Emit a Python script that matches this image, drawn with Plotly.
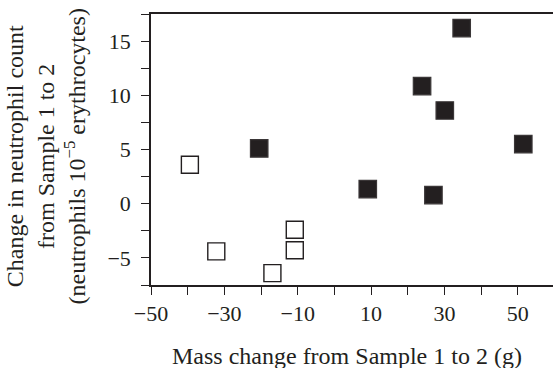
import plotly.graph_objects as go

# Data
filled_x = [-20.5, 9.1, 23.9, 30.1, 34.7, 27.0, 51.5]
filled_y = [5.1, 1.35, 10.85, 8.6, 16.2, 0.8, 5.5]
open_x = [-39.4, -32.2, -16.9, -10.8, -10.8]
open_y = [3.6, -4.4, -6.4, -2.4, -4.3]

x_tickvals = [-50, -40, -30, -20, -10, 0, 10, 20, 30, 40, 50]
x_ticktext = ["\u221250", "", "\u221230", "", "\u221210", "", "10", "", "30", "", "50"]
y_tickvals = [-7.5, -5, -2.5, 0, 2.5, 5, 7.5, 10, 12.5, 15, 17.5]
y_ticktext = ["", "\u22125", "", "0", "", "5", "", "10", "", "15", ""]

x_title = "Mass change from Sample 1 to 2 (g)"
y_title = ("Change in neutrophil count<br>from Sample 1 to 2<br>"
           "(neutrophils 10<sup>\u22125</sup> erythrocytes)")

INK = "#231f20"
FONT = "Liberation Serif"

fig = go.Figure()
fig.add_trace(go.Scatter(
    x=open_x, y=open_y, mode="markers",
    marker=dict(symbol="square", size=17, color="white",
                line=dict(color=INK, width=1.4)),
    showlegend=False, cliponaxis=False))
fig.add_trace(go.Scatter(
    x=filled_x, y=filled_y, mode="markers",
    marker=dict(symbol="square", size=17.5, color=INK,
                line=dict(color="#3a3637", width=1.2)),
    showlegend=False, cliponaxis=False))

fig.update_layout(
    width=553, height=368,
    margin=dict(l=151, r=0, t=14, b=83, autoexpand=False),
    paper_bgcolor="white", plot_bgcolor="white",
    font=dict(family=FONT, size=22, color=INK),
    xaxis=dict(range=[-50, 59.6], showgrid=False, zeroline=False,
               showline=True, linecolor=INK, linewidth=1.5, mirror=True,
               ticks="outside", ticklen=8, tickwidth=1.3, tickcolor=INK,
               tickvals=x_tickvals, ticktext=x_ticktext, automargin=False,
               tickfont=dict(family=FONT, size=22, color=INK)),
    yaxis=dict(range=[-7.5, 17.5], showgrid=False, zeroline=False,
               showline=True, linecolor=INK, linewidth=1.5,
               ticks="outside", ticklen=8, tickwidth=1.3, tickcolor=INK,
               tickvals=y_tickvals, ticktext=y_ticktext, automargin=False,
               ticklabelstandoff=6,
               tickfont=dict(family=FONT, size=22, color=INK)),
    annotations=[
        dict(text=x_title, xref="paper", yref="paper", x=0.487, y=0,
             yshift=-71, xanchor="center", yanchor="middle", showarrow=False,
             font=dict(family=FONT, size=24, color=INK)),
        dict(text=y_title, xref="paper", yref="paper", x=0, y=0.5,
             xshift=-106, yshift=-7, xanchor="center", yanchor="middle",
             textangle=-90, showarrow=False,
             font=dict(family=FONT, size=24, color=INK)),
    ],
)

fig.write_html("out.html", config={"displayModeBar": False},
               post_script="document.body.style.margin='0';document.body.style.overflow='hidden';")
